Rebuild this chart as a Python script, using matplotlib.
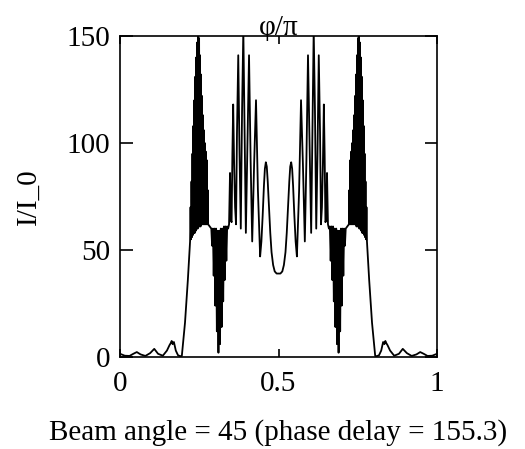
import matplotlib
matplotlib.use("Agg")
import matplotlib.pyplot as plt

plt.rcParams["font.family"] = ["Liberation Serif", "DejaVu Serif"]

# values, left to right (phi/pi, I/I_0)
base_left_x = [0.0, 0.015, 0.03, 0.042, 0.053, 0.065, 0.08, 0.095, 0.108, 0.12, 0.135,
               0.148, 0.156, 0.160, 0.163, 0.166, 0.170, 0.176, 0.183, 0.190, 0.195]
base_left_y = [1.5, 0.6, 0.5, 1.5, 2.3, 1.2, 0.5, 1.8, 3.8, 1.5, 0.6,
               3.0, 5.5, 6.5, 7.5, 6.0, 7.0, 3.0, 0.8, 0.4, 0.5]

rise_left_x = [0.200, 0.205, 0.210, 0.214, 0.218, 0.221]
rise_left_y = [8.0, 16.0, 27.0, 36.0, 46.0, 54.0]

dense_left_x = [0.2225, 0.224, 0.2255, 0.227, 0.2285, 0.230, 0.2315, 0.233, 0.2345, 0.236,
                0.2375, 0.239, 0.2405, 0.242, 0.2435, 0.245, 0.2465, 0.248, 0.2495, 0.251,
                0.2525, 0.254, 0.2555, 0.257, 0.2585, 0.260, 0.2615, 0.263, 0.2645, 0.266,
                0.2675, 0.269, 0.2705, 0.272, 0.2735, 0.275, 0.2765, 0.278]
dense_left_y = [70, 55, 82, 56, 95, 57, 108, 58, 120, 58,
                131, 59, 140, 60, 147, 60, 153, 61, 149, 61,
                141, 61, 132, 62, 122, 62, 113, 62, 106, 62,
                100, 62, 96, 62, 92, 62, 78, 62]

vee_left_x = [0.283, 0.288, 0.2905, 0.293, 0.2955, 0.298, 0.3005, 0.303, 0.3055, 0.308,
              0.3105, 0.313, 0.3155, 0.318, 0.3205, 0.323, 0.3255, 0.328, 0.3305, 0.333,
              0.3355, 0.338, 0.341]
vee_left_y = [61, 60, 52, 60, 38, 60, 24, 60, 12, 59,
              2, 59, 6, 60, 14, 60, 26, 61, 36, 61,
              45, 61, 60]

peaks_left_x = [0.344, 0.347, 0.3495, 0.352, 0.3545, 0.357, 0.360, 0.363, 0.366, 0.369,
                0.373, 0.377, 0.381, 0.385, 0.389, 0.393, 0.397, 0.402, 0.407, 0.412,
                0.417, 0.423, 0.429, 0.435, 0.442]
peaks_left_y = [62, 86, 64, 63, 95, 118, 90, 70, 62, 105,
                141, 95, 60, 115, 153, 105, 58, 100, 141, 92,
                54, 90, 120, 78, 47]

bump_left_x = [0.446, 0.450, 0.454, 0.457, 0.460, 0.463, 0.466, 0.470, 0.474, 0.478,
               0.483, 0.488, 0.494, 0.500]
bump_left_y = [54, 66, 80, 88, 91, 89, 82, 70, 58, 49, 43, 40, 39, 39]

bump_right_x = [0.506, 0.512, 0.517, 0.522, 0.526, 0.530, 0.534, 0.537, 0.540, 0.543,
                0.546, 0.550, 0.554]
bump_right_y = [39, 40, 43, 49, 58, 70, 82, 89, 91, 88, 80, 66, 54]

peaks_right_x = [0.558, 0.565, 0.571, 0.577, 0.583, 0.588, 0.593, 0.598, 0.603, 0.607,
                 0.611, 0.615, 0.619, 0.623, 0.627, 0.631, 0.634, 0.637, 0.640, 0.643,
                 0.6455, 0.648, 0.6505, 0.653, 0.656]
peaks_right_y = [47, 78, 120, 90, 54, 92, 141, 100, 58, 105,
                 153, 115, 60, 95, 141, 105, 62, 70, 90, 118,
                 95, 63, 64, 86, 62]

vee_right_x = [0.659, 0.662, 0.6645, 0.667, 0.6695, 0.672, 0.6745, 0.677, 0.6795, 0.682,
               0.6845, 0.687, 0.6895, 0.692, 0.6945, 0.697, 0.6995, 0.702, 0.7045, 0.707,
               0.7095, 0.712, 0.717]
vee_right_y = [60, 61, 45, 61, 36, 61, 26, 60, 14, 60,
               6, 59, 2, 59, 12, 60, 24, 60, 38, 60,
               52, 60, 61]

dense_right_x = [0.722, 0.7235, 0.725, 0.7265, 0.728, 0.7295, 0.731, 0.7325, 0.734, 0.7355,
                 0.737, 0.7385, 0.740, 0.7415, 0.743, 0.7445, 0.746, 0.7475, 0.749, 0.7505,
                 0.752, 0.7535, 0.755, 0.7565, 0.758, 0.7595, 0.761, 0.7625, 0.764, 0.7655,
                 0.767, 0.7685, 0.770, 0.7715, 0.773, 0.7745, 0.776, 0.7775]
dense_right_y = [62, 78, 62, 92, 62, 96, 62, 100, 62, 106,
                 62, 113, 62, 122, 62, 132, 61, 141, 61, 149,
                 61, 153, 60, 147, 60, 140, 59, 131, 58, 120,
                 58, 108, 57, 95, 56, 82, 55, 70]

rise_right_x = [0.779, 0.782, 0.786, 0.790, 0.795, 0.800]
rise_right_y = [54, 46, 36, 27, 16, 8]

base_right_x = [0.805, 0.810, 0.817, 0.824, 0.830, 0.834, 0.837, 0.840, 0.844, 0.852,
                0.865, 0.880, 0.892, 0.905, 0.920, 0.935, 0.947, 0.958, 0.970, 0.985, 1.0]
base_right_y = [0.5, 0.4, 0.8, 3.0, 7.0, 6.0, 7.5, 6.5, 5.5, 3.0,
                0.6, 1.5, 3.8, 1.8, 0.5, 1.2, 2.3, 1.5, 0.5, 0.6, 1.5]

x_vals = (base_left_x + rise_left_x + dense_left_x + vee_left_x + peaks_left_x + bump_left_x
          + bump_right_x + peaks_right_x + vee_right_x + dense_right_x + rise_right_x + base_right_x)
y_vals = (base_left_y + rise_left_y + dense_left_y + vee_left_y + peaks_left_y + bump_left_y
          + bump_right_y + peaks_right_y + vee_right_y + dense_right_y + rise_right_y + base_right_y)

fig = plt.figure(figsize=(5.25, 4.49), dpi=100)
ax = fig.add_axes([0.2286, 0.2049, 0.6038, 0.7149])
ax.plot(x_vals, y_vals, color="black", linewidth=1.3)

ax.set_xlim(0, 1)
ax.set_ylim(0, 150)
ax.set_xticks([0, 0.5, 1])
ax.set_xticklabels(["0", "0.5", "1"])
ax.set_yticks([0, 50, 100, 150])
ax.tick_params(direction="in", top=True, right=True, labelsize=21, width=1.2)
ax.tick_params(axis="y", length=9, pad=7)
ax.tick_params(axis="x", length=6, pad=10)
for sp in ax.spines.values():
    sp.set_linewidth(1.2)

ax.set_title("φ/π", fontsize=21, pad=1)
ax.set_ylabel("I/I_0", fontsize=21, labelpad=18)
ax.set_xlabel("Beam angle = 45 (phase delay = 155.3)", fontsize=21, labelpad=16)

fig.savefig("out.png", dpi=100)
